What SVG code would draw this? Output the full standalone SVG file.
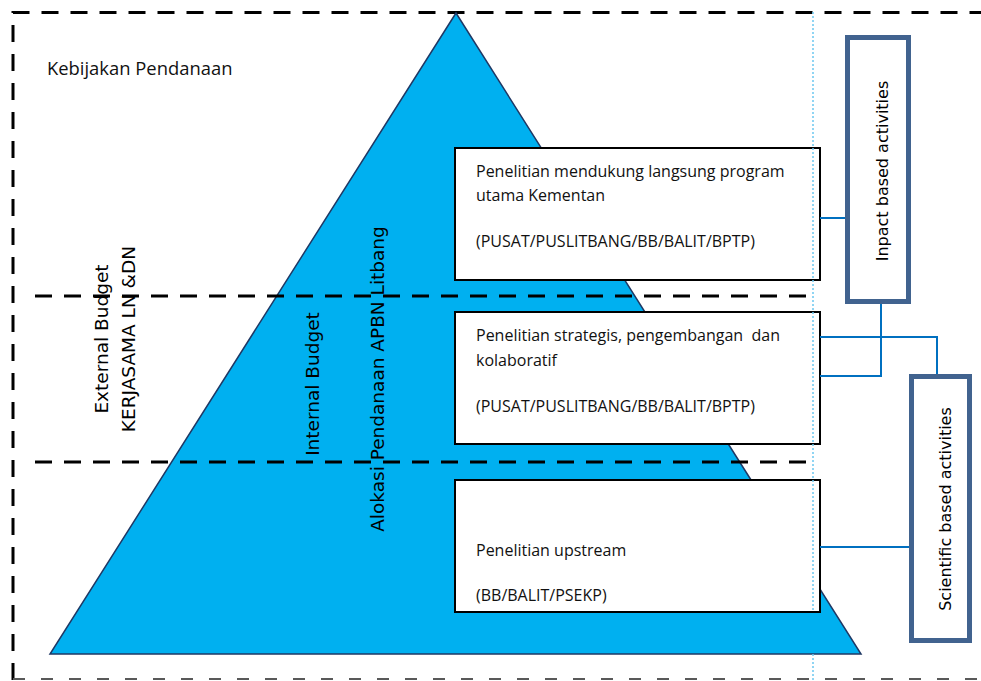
<svg xmlns="http://www.w3.org/2000/svg" width="981" height="681" viewBox="0 0 981 681">
<style>
.border{fill:none;stroke:#000;stroke-width:3;stroke-dasharray:17 12}
.hdash{fill:none;stroke:#000;stroke-width:3;stroke-dasharray:17 12}
.box{fill:#fff;stroke:#000;stroke-width:2}
.side{fill:#fff;stroke:#41638F;stroke-width:5}
.conn{fill:none;stroke:#0070C0;stroke-width:2}
.bt{font-family:"Open Sans","Noto Sans",sans-serif;font-size:16px;fill:#111;white-space:pre}
.vt{font-family:"DejaVu Sans",Verdana,sans-serif;font-size:18.5px;fill:#000;text-anchor:middle}
.st{font-family:"DejaVu Sans",Verdana,sans-serif;font-size:16px;fill:#000;text-anchor:middle}
</style>
<rect width="981" height="681" fill="#fff"/>
<g id="frame">
<path class="border" d="M13,680 V12.5 H981"/>
<path d="M13,679 H981" fill="none" stroke="#595959" stroke-width="2" stroke-dasharray="12 16"/>
</g>
<g id="pyramid">
<polygon points="456,13 861,654 50,654" fill="#00B0F0" stroke="#1F3864" stroke-width="1.5"/>
</g>
<g id="levels">
<line class="hdash" x1="35" y1="296" x2="812" y2="296"/>
<line class="hdash" x1="35" y1="462" x2="812" y2="462"/>
</g>
<text x="47" y="75" font-family="'Open Sans','Noto Sans',sans-serif" font-size="18.4" fill="#111">Kebijakan Pendanaan</text>
<g id="external-label">
<text class="vt" transform="translate(108,339) rotate(-90)">External Budget</text>
<text class="vt" transform="translate(135,339) rotate(-90)">KERJASAMA LN &amp;DN</text>
</g>
<g id="internal-label">
<text class="vt" transform="translate(319,384) rotate(-90)">Internal Budget</text>
</g>
<g id="apbn-label">
<text class="vt" transform="translate(384,379) rotate(-90)">Alokasi Pendanaan APBN Litbang</text>
</g>
<g id="box1">
<rect class="box" x="455" y="148" width="365" height="132"/>
<text class="bt" x="476" y="177">Penelitian mendukung langsung program</text>
<text class="bt" x="476" y="201">utama Kementan</text>
<text class="bt" x="476" y="247">(PUSAT/PUSLITBANG/BB/BALIT/BPTP)</text>
</g>
<g id="box2">
<rect class="box" x="455" y="312" width="365" height="132"/>
<text class="bt" x="476" y="341">Penelitian strategis, pengembangan  dan</text>
<text class="bt" x="476" y="366">kolaboratif</text>
<text class="bt" x="476" y="412">(PUSAT/PUSLITBANG/BB/BALIT/BPTP)</text>
</g>
<g id="box3">
<rect class="box" x="455" y="480" width="365" height="132"/>
<text class="bt" x="476" y="556">Penelitian upstream</text>
<text class="bt" x="476" y="601">(BB/BALIT/PSEKP)</text>
</g>
<g id="guide">
<path d="M813,12 V612 M813,654 V681" fill="none" stroke="#6CC8F0" stroke-width="1.5" stroke-dasharray="2 2"/>
</g>
<g id="connectors">
<path class="conn" d="M820,218 H847"/>
<path class="conn" d="M820,376 H881 V304"/>
<path class="conn" d="M820,337 H937 V374"/>
<path class="conn" d="M820,547 H909"/>
</g>
<g id="impact">
<rect class="side" x="847.5" y="37.5" width="61" height="264"/>
<text class="st" transform="translate(888,171) rotate(-90)">Inpact based activities</text>
</g>
<g id="scientific">
<rect class="side" x="911.5" y="376.5" width="58" height="264"/>
<text class="st" transform="translate(951,509) rotate(-90)">Scientific based activities</text>
</g>
</svg>
